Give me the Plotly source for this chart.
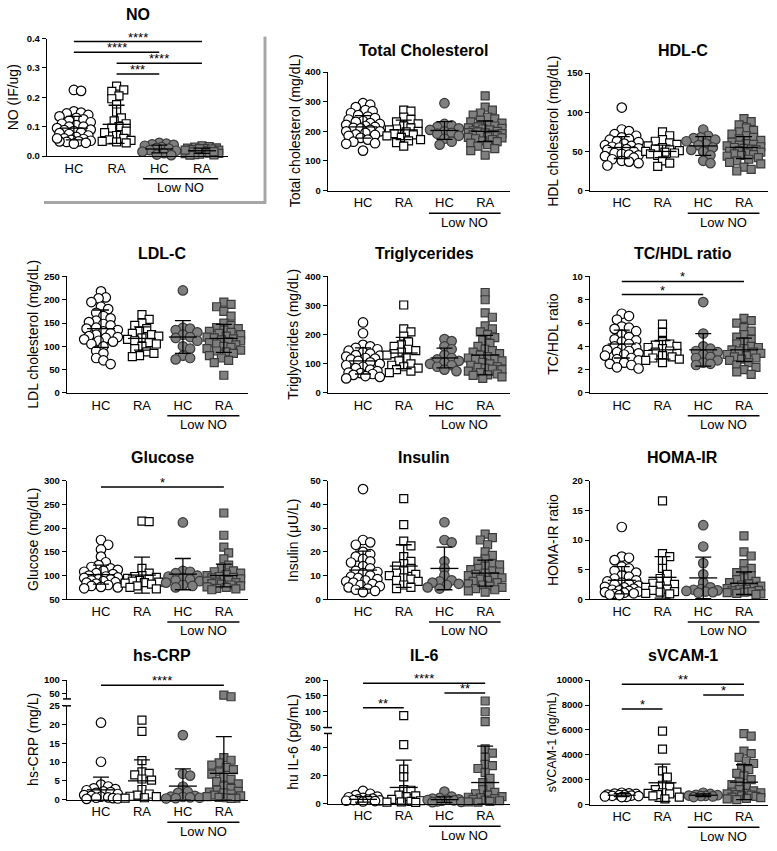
import plotly.graph_objects as go

W, H = 777, 851
def PX(x): return x / W
def PY(y): return 1 - y / H

CATS = [1, 2, 3, 4]
CAT_LABELS = ["HC", "RA", "HC", "RA"]
SUBGROUP_LABEL = "Low NO"

# ---------------- data ----------------
NO_HC = [0.225,0.222,0.152,0.148,0.145,0.140,0.135,0.130,0.125,0.120,0.115,0.110,0.105,0.100,0.100,0.095,0.090,0.088,0.085,0.080,0.078,0.075,0.070,0.065,0.060,0.058,0.055,0.052,0.050,0.048,0.045,0.042,0.050,0.060]
NO_RA = [0.238,0.225,0.220,0.205,0.195,0.175,0.150,0.130,0.120,0.110,0.100,0.095,0.085,0.080,0.070,0.060,0.055,0.053,0.050,0.048,0.045]
NO_LHC = [0.045,0.042,0.040,0.038,0.035,0.030,0.028,0.025,0.020,0.018,0.015,0.010,0.005,0.003]
NO_LRA = [0.035,0.032,0.030,0.028,0.027,0.025,0.024,0.022,0.020,0.018,0.017,0.015,0.014,0.012,0.010,0.009,0.008,0.006,0.005,0.004,0.003,0.020,0.025,0.015]
NO_MEAN = [0.095,0.108,0.024,0.018]
NO_SD = [0.040,0.065,0.013,0.009]
NO_SIG = [(1,4,0.390,"****"),(1,3,0.353,"****"),(2,4,0.316,"****"),(2,3,0.279,"***")]

TC_HC = [295,290,282,272,268,262,255,250,245,240,235,232,228,225,222,218,215,212,210,205,200,200,195,190,188,185,178,172,165,160,158,135]
TC_RA = [272,268,248,240,232,225,218,212,208,205,200,198,192,188,185,180,172,168,162,150]
TC_LHC = [295,225,220,215,210,205,200,195,192,185,175,165,155]
TC_LRA = [320,282,272,262,255,248,242,238,232,228,222,218,215,212,210,208,205,202,200,198,196,195,192,190,188,186,185,182,180,178,175,172,168,165,160,155,150,142,135,120]
TC_MEAN = [215,205,203,200]
TC_SD = [38,33,30,35]
TC_SIG = []

HDL_HC = [106,78,76,72,70,68,66,65,63,62,60,58,57,56,55,54,53,52,50,48,47,46,45,44,42,40,38,37,35,32]
HDL_RA = [75,70,65,63,61,59,57,55,53,52,51,50,49,48,47,45,38,35,31]
HDL_LHC = [78,70,68,67,65,63,60,58,55,52,50,45,38,35]
HDL_LRA = [92,88,84,80,77,75,72,70,68,66,64,62,60,59,58,57,56,55,54,53,52,51,50,49,48,47,46,45,44,42,40,38,36,34,30,27,25]
HDL_MEAN = [55,50,57,55]
HDL_SD = [14,8,12,14]
HDL_SIG = []

LDL_HC = [218,205,203,195,185,180,172,165,160,155,152,148,145,140,138,135,132,128,125,122,120,118,115,112,110,105,100,90,85,75,70,62]
LDL_RA = [168,158,150,145,138,132,128,125,122,118,115,112,108,105,100,95,88,85,80,78]
LDL_LHC = [220,140,138,135,130,125,120,118,112,100,95,80,75,72]
LDL_LRA = [195,190,185,175,165,150,145,140,138,135,132,130,128,125,122,120,118,116,114,112,110,108,105,103,100,98,95,92,90,88,85,80,75,70,65,38]
LDL_MEAN = [138,117,120,117]
LDL_SD = [40,25,35,30]
LDL_SIG = []

TG_HC = [242,205,165,160,155,150,145,140,135,130,128,125,120,118,115,110,105,100,95,90,85,80,75,70,68,65,62,58,55,50]
TG_RA = [302,220,210,195,175,165,160,150,145,140,135,130,120,110,100,95,90,85,80,75,70]
TG_LHC = [185,178,160,150,130,120,115,110,105,100,95,90,80,75]
TG_LRA = [345,320,275,260,230,220,210,200,190,180,170,160,150,145,140,135,130,125,120,118,115,110,105,100,95,90,88,85,82,80,75,70,65,62,60,55,50]
TG_MEAN = [110,137,120,130]
TG_SD = [45,54,34,68]
TG_SIG = []

TH_HC = [6.8,6.6,6.3,5.7,5.6,5.5,5.3,5.0,4.8,4.6,4.5,4.4,4.2,4.0,3.9,3.8,3.7,3.6,3.5,3.4,3.3,3.2,3.0,2.9,2.8,2.6,2.5,2.4,2.2,2.1]
TH_RA = [5.9,5.2,4.4,4.2,4.1,4.0,3.9,3.8,3.6,3.5,3.4,3.3,3.2,3.1,3.0,2.9,2.8,2.6]
TH_LHC = [7.8,5.1,4.0,3.8,3.6,3.5,3.3,3.1,3.0,2.8,2.6,2.5,2.4]
TH_LRA = [6.4,6.2,6.0,5.6,5.3,5.0,4.8,4.6,4.4,4.2,4.0,3.9,3.8,3.7,3.6,3.5,3.4,3.3,3.2,3.1,3.0,2.9,2.8,2.6,2.4,2.2,2.0,1.8,1.6]
TH_MEAN = [4.2,3.7,3.7,3.7]
TH_SD = [1.2,0.8,1.4,1.0]
TH_SIG = [(1,4,9.57,"*"),(1,3,8.45,"*")]

GLU_HC = [175,165,155,140,128,122,118,115,112,110,108,105,103,100,98,96,95,93,92,90,88,86,85,83,80,78,76,75,73]
GLU_RA = [215,214,115,105,100,98,96,94,92,90,88,86,85,84,82,78,75,72]
GLU_LHC = [212,110,108,105,100,98,95,92,90,88,85,80,78,75]
GLU_LRA = [232,185,160,148,135,122,115,110,108,105,102,100,98,96,95,93,92,90,88,86,85,83,82,80,78,76,75,73,72,70]
GLU_MEAN = [102,101,103,100]
GLU_SD = [20,38,33,24]
GLU_SIG = [(1,4,287,"*")]

INS_HC = [46.5,25,24,23,20,19,18,17,16,15.5,14,13,12,11.5,11,10,9.5,9,8.5,8,7.5,7,6.5,6,5.5,5,4.5,4,3.5,3]
INS_RA = [42.5,31.5,24.5,22.5,18,16,15,14,13,12,11,10.5,10,9,8.5,8,7.5,6,5,4.5]
INS_LHC = [32.5,25,24,16,13,10,8,7.5,7,6.5,6,5,4.5]
INS_LRA = [27.5,26,25,23,20,18.5,17,16,15,14.5,14,13,12.5,12,11.5,11,10.5,10,9.5,9,8.5,8,7.5,7,6.5,6,5.5,5,4.5,4,3.5,3]
INS_MEAN = [12.3,14,13,11]
INS_SD = [8,9,9,5.5]
INS_SIG = []

HOMA_HC = [12.2,7.2,7.0,6.6,5.5,5.2,4.8,4.5,4.0,3.8,3.5,3.2,3.0,2.8,2.6,2.5,2.3,2.1,2.0,1.8,1.6,1.5,1.4,1.3,1.2,1.1,1.0,0.9,0.8,0.7]
HOMA_RA = [16.6,7.7,7.2,6.5,5.2,4.2,3.5,3.0,2.7,2.5,2.2,2.0,1.7,1.5,1.3,1.2,1.0,0.9]
HOMA_LHC = [12.5,8.9,6.1,4.2,2.8,2.0,1.7,1.6,1.5,1.4,1.3,1.2,1.1]
HOMA_LRA = [10.7,8.0,7.3,6.0,5.2,4.8,4.5,4.0,3.6,3.3,3.0,2.8,2.6,2.4,2.2,2.0,1.9,1.8,1.7,1.6,1.5,1.4,1.3,1.2,1.1,1.0,0.9,0.8]
HOMA_MEAN = [3.2,3.7,3.6,2.7]
HOMA_SD = [2.3,3.5,3.5,1.9]
HOMA_SIG = []

CRP_HC = [20.5,10.1,4.0,3.5,3.0,2.8,2.5,2.2,2.0,1.8,1.5,1.2,1.0,0.8,0.6,0.5,0.4,0.3,0.2]
CRP_RA = [21.2,18.2,10.4,7.4,7.0,6.6,5.5,5.2,2.7,1.5,1.2,0.9,0.8,0.5,0.4]
CRP_LHC = [17.2,6.9,6.4,3.5,2.1,1.8,1.0,0.8,0.7,0.6,0.5,0.4,0.3]
CRP_LRA = [46,40,11.2,10.5,9.8,9.2,8.6,8.0,7.4,6.8,6.0,5.4,4.8,4.2,3.6,3.0,2.5,2.2,2.0,1.8,1.5,1.2,1.0,0.8,0.6,0.5,0.4,0.3]
CRP_MEAN = [2.6,5.0,3.6,7.0]
CRP_SD = [3.4,5.6,4.6,9.8]
CRP_SIG = [(1,4,82,"****")]

IL6_HC = [9,7,6,5,4.5,4,3.5,3,2.8,2.5,2.2,2,1.8,1.5]
IL6_RA = [88,42,24.5,19,10,9.5,6,5.5,5,3,2,1.5,1.2,1,0.8]
IL6_LHC = [8.5,5,4,3.5,3,2.8,2.5,2.2,2,1.5,1.2,1]
IL6_LRA = [134,100,69,39,36,33,28,27,25,22,18,15,12,10,8,7,6,5,4.5,4,3.5,3,2.5,2,1.5,1.2,1]
IL6_MEAN = [3,11.5,2.8,15]
IL6_SD = [2,19.5,2,26]
IL6_SIG = [(1,4,190.6,"****"),(3,4,159,"**"),(1,2,112.5,"**")]

VC_HC = [950,900,880,850,800,780,750,720,700,680,650,620,600]
VC_RA = [5900,4450,2700,2200,1550,1400,1200,1000,950,900,850,800,700,600,450]
VC_LHC = [950,850,780,750,720,700,680,650,600]
VC_LRA = [5700,5500,4300,4100,3800,3500,3300,3000,2800,2500,2300,2000,1800,1600,1400,1200,1100,1000,950,900,850,800,750,700,650,600,550,500,450,400]
VC_MEAN = [750,1750,750,1800]
VC_SD = [120,1500,110,1400]
VC_SIG = [(1,4,9680,"**"),(3,4,8800,"*"),(1,2,7680,"*")]

PANELS = [
    dict(key="NO", title="NO", ytitle="NO (IF/ug)", groups=[NO_HC,NO_RA,NO_LHC,NO_LRA], mean=NO_MEAN, sd=NO_SD, sig=NO_SIG,
         segs=[dict(range=[0,0.4], ticks=[0,0.1,0.2,0.3,0.4], fmt=".1f")]),
    dict(key="TC", title="Total Cholesterol", ytitle="Total cholesterol (mg/dL)", groups=[TC_HC,TC_RA,TC_LHC,TC_LRA], mean=TC_MEAN, sd=TC_SD, sig=TC_SIG,
         segs=[dict(range=[0,400], ticks=[0,100,200,300,400])]),
    dict(key="HDL", title="HDL-C", ytitle="HDL cholesterol (mg/dL)", groups=[HDL_HC,HDL_RA,HDL_LHC,HDL_LRA], mean=HDL_MEAN, sd=HDL_SD, sig=HDL_SIG,
         segs=[dict(range=[0,150], ticks=[0,50,100,150])]),
    dict(key="LDL", title="LDL-C", ytitle="LDL cholesterol (mg/dL)", groups=[LDL_HC,LDL_RA,LDL_LHC,LDL_LRA], mean=LDL_MEAN, sd=LDL_SD, sig=LDL_SIG,
         segs=[dict(range=[0,250], ticks=[0,50,100,150,200,250])]),
    dict(key="TG", title="Triglycerides", ytitle="Triglycerides (mg/dL)", groups=[TG_HC,TG_RA,TG_LHC,TG_LRA], mean=TG_MEAN, sd=TG_SD, sig=TG_SIG,
         segs=[dict(range=[0,400], ticks=[0,100,200,300,400])]),
    dict(key="TH", title="TC/HDL ratio", ytitle="TC/HDL ratio", groups=[TH_HC,TH_RA,TH_LHC,TH_LRA], mean=TH_MEAN, sd=TH_SD, sig=TH_SIG,
         segs=[dict(range=[0,10], ticks=[0,2,4,6,8,10])]),
    dict(key="GLU", title="Glucose", ytitle="Glucose (mg/dL)", groups=[GLU_HC,GLU_RA,GLU_LHC,GLU_LRA], mean=GLU_MEAN, sd=GLU_SD, sig=GLU_SIG,
         segs=[dict(range=[50,300], ticks=[50,100,150,200,250,300])]),
    dict(key="INS", title="Insulin", ytitle="Insulin (\u03bcU/L)", groups=[INS_HC,INS_RA,INS_LHC,INS_LRA], mean=INS_MEAN, sd=INS_SD, sig=INS_SIG,
         segs=[dict(range=[0,50], ticks=[0,10,20,30,40,50])]),
    dict(key="HOMA", title="HOMA-IR", ytitle="HOMA-IR ratio", groups=[HOMA_HC,HOMA_RA,HOMA_LHC,HOMA_LRA], mean=HOMA_MEAN, sd=HOMA_SD, sig=HOMA_SIG,
         segs=[dict(range=[0,20], ticks=[0,5,10,15,20])]),
    dict(key="CRP", title="hs-CRP", ytitle="hs-CRP (mg/L)", groups=[CRP_HC,CRP_RA,CRP_LHC,CRP_LRA], mean=CRP_MEAN, sd=CRP_SD, sig=CRP_SIG,
         segs=[dict(range=[0,25], ticks=[0,5,10,15,20,25]), dict(range=[32.1,100], ticks=[50,100])]),
    dict(key="IL6", title="IL-6", ytitle="hu IL-6 (pg/mL)", groups=[IL6_HC,IL6_RA,IL6_LHC,IL6_LRA], mean=IL6_MEAN, sd=IL6_SD, sig=IL6_SIG,
         segs=[dict(range=[0,50], ticks=[0,20,40]), dict(range=[50,200], ticks=[50,100,150,200])]),
    dict(key="VC", title="sVCAM-1", ytitle="sVCAM-1 (ng/mL)", groups=[VC_HC,VC_RA,VC_LHC,VC_LRA], mean=VC_MEAN, sd=VC_SD, sig=VC_SIG,
         segs=[dict(range=[0,10000], ticks=[0,2000,4000,6000,8000,10000], fmt="d")]),
]

# ---------------- geometry (pixels) ----------------
COLX = {0: ((67,248),(0.17,4.59)), 1: ((328,510),(0.14,4.61)), 2: ((590,768),(0.22,4.59))}
GEOM = {
    "NO":  dict(x=(47,228), xr=(0.37,4.61), segs=[(33,152)], ty=9, ytx=13, yts=14),
    "TC":  dict(col=1, segs=[(67,187)], ty=45, ytx=295, yts=14),
    "HDL": dict(col=2, segs=[(68,187)], ty=45, ytx=553, yts=14),
    "LDL": dict(col=0, segs=[(274,392)], ty=251, ytx=33, yts=14),
    "TG":  dict(col=1, segs=[(274,392)], ty=251, ytx=293, yts=14),
    "TH":  dict(col=2, segs=[(274,392)], ty=251, ytx=553, yts=14),
    "GLU": dict(col=0, segs=[(481,601)], ty=457, ytx=33, yts=14),
    "INS": dict(col=1, segs=[(481,601)], ty=457, ytx=293, yts=14),
    "HOMA":dict(col=2, segs=[(481,601)], ty=457, ytx=553, yts=14),
    "CRP": dict(col=0, segs=[(709,804),(683,702)], ty=658, ytx=33, yts=14),
    "IL6": dict(col=1, segs=[(737,808),(683,731)], ty=658, ytx=293, yts=14),
    "VC":  dict(col=2, segs=[(683,809)], ty=658, ytx=552, yts=12.5),
}

FONT = "Liberation Sans"
STYLES = [
    dict(symbol="circle", color="white", line="black", size=9.5),
    dict(symbol="square", color="white", line="black", size=8),
    dict(symbol="circle", color="#7f7f7f", line="#3a3a3a", size=9.5),
    dict(symbol="square", color="#7f7f7f", line="#3a3a3a", size=8),
]

def swarm(ypx, xppu, d=9.0, mind=0.78, step=2.4, maxw=17.0):
    n = len(ypx)
    order = sorted(range(n), key=lambda i: ypx[i])
    cands = [0.0]
    k = 1
    while k * step <= maxw:
        cands += [k * step, -k * step]
        k += 1
    placed, offs = [], [0.0] * n
    for i in order:
        y = ypx[i]
        best, bestc, bests = None, 0.0, -1
        for c in cands:
            md = min([((c - a) ** 2 + (y - b) ** 2) ** 0.5 for a, b in placed], default=1e9)
            if md >= mind * d:
                best = c
                break
            if md > bests:
                bests, bestc = md, c
        if best is None:
            best = bestc
        placed.append((best, y))
        offs[i] = best / xppu
    return offs

fig = go.Figure()
layout = dict(width=W, height=H, margin=dict(l=0, r=0, t=0, b=0), showlegend=False,
              plot_bgcolor="white", paper_bgcolor="white", font=dict(family=FONT, color="black"))
shapes, annots = [], []
ax = 0

for p in PANELS:
    g = GEOM[p["key"]]
    if "col" in g:
        (x0, x1), xr = COLX[g["col"]]
    else:
        (x0, x1), xr = g["x"], g["xr"]
    xppu = (x1 - x0) / (xr[1] - xr[0])
    segidx = []
    for si, (seg, (top, bot)) in enumerate(zip(p["segs"], g["segs"])):
        ax += 1
        segidx.append(ax)
        xn = "xaxis" if ax == 1 else f"xaxis{ax}"
        yn = "yaxis" if ax == 1 else f"yaxis{ax}"
        xa = dict(domain=[PX(x0), PX(x1)], range=list(xr), anchor=f"y{ax}" if ax > 1 else "y",
                  showgrid=False, zeroline=False, fixedrange=True)
        if si == 0:
            xa.update(showline=True, linecolor="black", linewidth=1.4, ticks="",
                      tickvals=CATS, ticktext=CAT_LABELS, tickfont=dict(family=FONT, size=13, color="black"),
                      ticklabelstandoff=0)
        else:
            xa.update(visible=False, matches=f"x{segidx[0]}" if segidx[0] > 1 else "x")
        ya = dict(domain=[PY(bot), PY(top)], range=seg["range"], anchor=f"x{ax}" if ax > 1 else "x",
                  showgrid=False, zeroline=False, showline=True, linecolor="black", linewidth=1.4,
                  ticks="outside", ticklen=4, tickwidth=1.4, tickcolor="black", fixedrange=True,
                  tickvals=seg["ticks"], tickfont=dict(family=FONT, size=9.5, weight="bold", color="black"))
        if "fmt" in seg:
            ya["tickformat"] = seg["fmt"]
        layout[xn] = xa
        layout[yn] = ya

    def seg_of(v):
        for si, seg in enumerate(p["segs"]):
            if seg["range"][0] <= v <= seg["range"][1]:
                return si
        return 0 if v < p["segs"][0]["range"][1] else len(p["segs"]) - 1

    def to_px(v):
        si = seg_of(v)
        lo, hi = p["segs"][si]["range"]
        top, bot = g["segs"][si]
        return bot - (v - lo) / (hi - lo) * (bot - top)

    def ref(si):
        a = segidx[si]
        return ("x" if a == 1 else f"x{a}"), ("y" if a == 1 else f"y{a}")

    for gi, vals in enumerate(p["groups"]):
        offs = swarm([to_px(v) for v in vals], xppu)
        st = STYLES[gi]
        for si in range(len(p["segs"])):
            xs = [CATS[gi] + o for v, o in zip(vals, offs) if seg_of(v) == si]
            ys = [v for v in vals if seg_of(v) == si]
            if not ys:
                continue
            xr_, yr_ = ref(si)
            fig.add_trace(go.Scatter(x=xs, y=ys, mode="markers", xaxis=xr_, yaxis=yr_, cliponaxis=False,
                                     marker=dict(symbol=st["symbol"], color=st["color"], size=st["size"],
                                                 line=dict(color=st["line"], width=1.2)),
                                     hoverinfo="y"))
    lo0 = p["segs"][0]["range"][0]
    xr_, yr_ = ref(0)
    fig.add_trace(go.Scatter(x=CATS, y=p["mean"], mode="markers", xaxis=xr_, yaxis=yr_, cliponaxis=False,
                             marker=dict(symbol="line-ew", size=20, color="black", line=dict(color="black", width=1.3)),
                             error_y=dict(type="data", symmetric=False, array=p["sd"],
                                          arrayminus=[min(s, m - lo0) for m, s in zip(p["mean"], p["sd"])],
                                          width=8, thickness=1.3, color="black")))
    # significance bars
    for (a, b, yv, lab) in p["sig"]:
        si = seg_of(yv)
        xr_, yr_ = ref(si)
        shapes.append(dict(type="line", xref=xr_, yref=yr_, x0=a, x1=b, y0=yv, y1=yv,
                           line=dict(color="black", width=1.5)))
        annots.append(dict(xref=xr_, yref=yr_, x=(a + b) / 2, y=yv, text=lab, showarrow=False,
                           yanchor="bottom", yshift=-5, font=dict(family=FONT, size=13, color="black")))
    # subgroup bracket
    bot0 = g["segs"][0][1]
    xr_, _ = ref(0)
    shapes.append(dict(type="line", xref=xr_, yref="paper", x0=2.62, x1=4.38,
                       y0=PY(bot0 + 23), y1=PY(bot0 + 23), line=dict(color="black", width=1.5)))
    annots.append(dict(xref=xr_, yref="paper", x=3.5, y=PY(bot0 + 32), text=SUBGROUP_LABEL, showarrow=False,
                       yanchor="middle", font=dict(family=FONT, size=13, color="black")))
    # title
    annots.append(dict(xref=xr_, yref="paper", x=2.5, y=PY(g["ty"]), text=f"<b>{p['title']}</b>",
                       showarrow=False, yanchor="middle", font=dict(family=FONT, size=16, color="black")))
    # y title
    ytop = min(t for t, b in g["segs"])
    ybot = max(b for t, b in g["segs"])
    annots.append(dict(xref="paper", yref="paper", x=PX(g["ytx"]), y=PY((ytop + ybot) / 2), text=p["ytitle"],
                       textangle=-90, showarrow=False, xanchor="center", yanchor="middle",
                       font=dict(family=FONT, size=g["yts"], color="black")))
    # axis break marks
    if len(g["segs"]) > 1:
        for yb in (g["segs"][0][0], g["segs"][1][1]):
            shapes.append(dict(type="line", xref="paper", yref="paper", x0=PX(x0 - 4), x1=PX(x0 + 4),
                               y0=PY(yb), y1=PY(yb), line=dict(color="black", width=1.5)))

# grey frame around the NO panel
shapes.append(dict(type="line", xref="paper", yref="paper", x0=PX(265), x1=PX(265), y0=PY(31), y1=PY(200),
                   line=dict(color="#a6a6a6", width=3)))
shapes.append(dict(type="line", xref="paper", yref="paper", x0=PX(44), x1=PX(266), y0=PY(199), y1=PY(199),
                   line=dict(color="#a6a6a6", width=3)))

layout["shapes"] = shapes
layout["annotations"] = annots
fig.update_layout(**layout)
fig.write_html("out.html", config={"displayModeBar": False},
               post_script="document.body.style.margin='0';document.body.style.padding='0';document.body.style.overflow='hidden';")
